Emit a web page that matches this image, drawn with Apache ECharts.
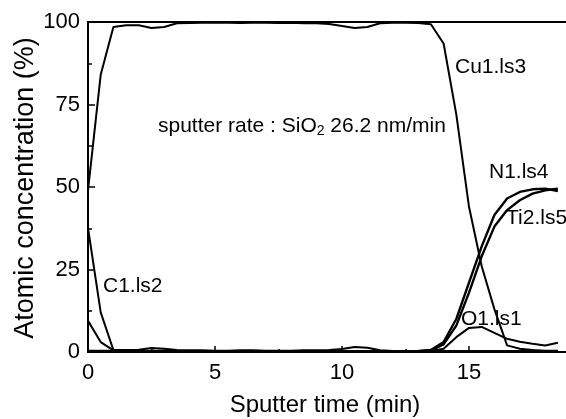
<!DOCTYPE html>
<html>
<head>
<meta charset="utf-8">
<script src="https://cdn.jsdelivr.net/npm/echarts@6/dist/echarts.min.js"></script>
<style>
html,body{margin:0;padding:0;background:#fff;}
#c{width:566px;height:419px;}
</style>
</head>
<body>
<div id="c"></div>
<script>
// sputter time (min)
const time = [0,0.5,1,1.5,2,2.5,3,3.5,4,4.5,5,5.5,6,6.5,7,7.5,8,8.5,9,9.5,10,10.5,11,11.5,12,12.5,13,13.5,14,14.5,15,15.5,16,16.5,17,17.5,18,18.5];
// atomic concentration (%)
const cu = [49,84,98.5,99,99,98.2,98.5,99.6,99.7,99.8,99.8,99.8,99.7,99.8,99.8,99.7,99.8,99.6,99.6,99.4,98.8,98.2,98.5,99.6,99.8,99.8,99.7,99.3,93.5,72,44,26,13,2,1,0.6,0.4,0.4];
const c1 = [37.6,12,0.6,0.6,0.7,1.2,1.0,0.6,0.5,0.5,0.4,0.4,0.5,0.5,0.4,0.4,0.4,0.5,0.5,0.6,0.9,1.5,1.3,0.5,0.3,0.3,0.3,0.3,0.3,0.3,0.3,0.3,0.3,0.3,0.3,0.3,0.3,0.3];
const o1 = [9.5,3,0.5,0.3,0.3,0.4,0.4,0.3,0.3,0.3,0.3,0.3,0.3,0.3,0.3,0.3,0.3,0.3,0.3,0.3,0.3,0.3,0.3,0.3,0.3,0.3,0.3,0.3,1,4.5,7.3,7.6,5.8,4,3.1,2.5,2,2.8];
const n1 = [0.3,0.3,0.3,0.2,0.2,0.2,0.2,0.2,0.2,0.2,0.2,0.2,0.2,0.2,0.2,0.2,0.2,0.2,0.2,0.2,0.2,0.2,0.2,0.2,0.2,0.2,0.3,0.6,3,10,21,32,41.5,46.5,48.5,49.3,49.5,48.8];
const ti2 = [0.2,0.2,0.2,0.2,0.2,0.2,0.2,0.2,0.2,0.2,0.2,0.2,0.2,0.2,0.2,0.2,0.2,0.2,0.2,0.2,0.2,0.2,0.2,0.2,0.2,0.2,0.2,0.5,2.3,8,18,29,38,43,46,48,49,49.5];
const xTicks = [0,5,10,15,20];
const yTicks = [0,25,50,75,100];

const font = '"Liberation Sans", Arial, sans-serif';
function pairs(ys){ return time.map((t,i)=>[t,ys[i]]); }
function line(name, ys, w){
  return {name, type:'line', data:pairs(ys), showSymbol:false, symbol:'none',
    lineStyle:{color:'#000', width:w}, itemStyle:{color:'#000'}, z:3, animation:false};
}
const chart = echarts.init(document.getElementById('c'), null, {renderer:'canvas'});
chart.setOption({
  animation:false,
  backgroundColor:'#fff',
  grid:{left:88, top:22, width:508, height:330, containLabel:false, outerBoundsMode:'none',
    show:true, borderColor:'#000', borderWidth:2, backgroundColor:'transparent'},
  xAxis:{type:'value', min:xTicks[0], max:xTicks[xTicks.length-1], interval:5,
    axisLine:{show:true, onZero:false, lineStyle:{color:'#000', width:2}},
    axisTick:{show:true, inside:true, length:6, lineStyle:{color:'#000', width:1.5}},
    minorTick:{show:true, splitNumber:2, length:3, lineStyle:{color:'#000', width:1.5}},
    splitLine:{show:false},
    axisLabel:{color:'#000', fontSize:22, fontFamily:font, margin:10}},
  yAxis:{type:'value', min:yTicks[0], max:yTicks[yTicks.length-1], interval:25,
    axisLine:{show:true, lineStyle:{color:'#000', width:2}},
    axisTick:{show:true, inside:true, length:7, lineStyle:{color:'#000', width:1.5}},
    minorTick:{show:true, splitNumber:2, length:4, lineStyle:{color:'#000', width:1.5}},
    splitLine:{show:false},
    axisLabel:{color:'#000', fontSize:22, fontFamily:font, margin:8}},
  series:[
    line('Cu1.ls3', cu, 2),
    line('C1.ls2', c1, 2),
    line('O1.ls1', o1, 2),
    line('N1.ls4', n1, 2.4),
    line('Ti2.ls5', ti2, 2.4)
  ],
  graphic:[
    {type:'text', x:325, y:405, style:{text:'Sputter time (min)', font:'24px '+font, fill:'#000', textAlign:'center', textVerticalAlign:'middle'}},
    {type:'text', x:26, y:188, rotation:Math.PI/2, style:{text:'Atomic concentration (%)', font:'27px '+font, fill:'#000', textAlign:'center', textVerticalAlign:'middle'}},
    {type:'text', x:158, y:126, style:{text:'{a|sputter rate : SiO}{b|2}{a| 26.2 nm/min}', textVerticalAlign:'middle',
      rich:{a:{fontSize:21, fontFamily:font, fill:'#000', color:'#000'}, b:{fontSize:14, fontFamily:font, color:'#000', fill:'#000', verticalAlign:'bottom', padding:[10,0,0,0]}}}},
    {type:'text', x:455, y:67, style:{text:'Cu1.ls3', font:'21px '+font, fill:'#000', textVerticalAlign:'middle'}},
    {type:'text', x:103, y:286, style:{text:'C1.ls2', font:'21px '+font, fill:'#000', textVerticalAlign:'middle'}},
    {type:'text', x:461, y:319, style:{text:'O1.ls1', font:'21px '+font, fill:'#000', textVerticalAlign:'middle'}},
    {type:'text', x:489, y:172, style:{text:'N1.ls4', font:'21px '+font, fill:'#000', textVerticalAlign:'middle'}},
    {type:'text', x:506, y:218, style:{text:'Ti2.ls5', font:'21px '+font, fill:'#000', textVerticalAlign:'middle'}}
  ]
});
</script>
</body>
</html>
